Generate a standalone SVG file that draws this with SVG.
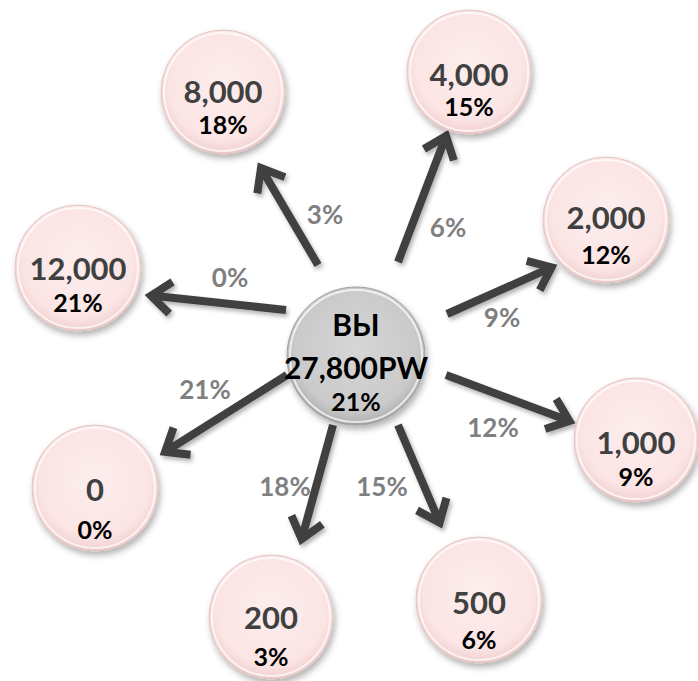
<svg xmlns="http://www.w3.org/2000/svg" width="698" height="681" viewBox="0 0 698 681">
<style>
.num{font-family:Lato,"Open Sans","Liberation Sans",sans-serif;font-weight:bold;font-size:31px;fill:#404040;text-anchor:middle}
.pct{font-family:Lato,"Open Sans","Liberation Sans",sans-serif;font-weight:bold;font-size:25px;fill:#000;text-anchor:middle}
.ctr{font-family:Lato,"Open Sans","Liberation Sans",sans-serif;font-weight:bold;font-size:30px;fill:#000;text-anchor:middle}
.lbl{font-family:Lato,"Open Sans","Liberation Sans",sans-serif;font-weight:bold;font-size:26px;fill:#7f7f7f;text-anchor:middle}
.node{fill:url(#pink);stroke:#e2c4c4;stroke-width:1;filter:url(#sh)}
.hub{fill:url(#grey);stroke:#a0a0a0;stroke-width:1;filter:url(#sh)}
.rim{fill:none;stroke:#ffffff;stroke-opacity:0.7;stroke-width:2}
.arr{fill:none;stroke:#404040;stroke-width:8;marker-end:url(#ah)}
</style>
<defs>
<radialGradient id="pink" cx="50%" cy="45%" r="55%">
<stop offset="0" stop-color="#fdeeee"/>
<stop offset="0.8" stop-color="#fbe4e4"/>
<stop offset="0.93" stop-color="#f5d6d6"/>
<stop offset="1" stop-color="#e8c2c2"/>
</radialGradient>
<radialGradient id="grey" cx="50%" cy="45%" r="55%">
<stop offset="0" stop-color="#d6d6d6"/>
<stop offset="0.8" stop-color="#cacaca"/>
<stop offset="0.93" stop-color="#b8b8b8"/>
<stop offset="1" stop-color="#9c9c9c"/>
</radialGradient>
<filter id="sh" x="-20%" y="-20%" width="140%" height="140%">
<feDropShadow dx="2" dy="4" stdDeviation="3" flood-color="#000" flood-opacity="0.3"/>
</filter>
<filter id="ash" x="-20%" y="-20%" width="140%" height="140%">
<feDropShadow dx="2" dy="3" stdDeviation="2" flood-color="#000" flood-opacity="0.3"/>
</filter>
<marker id="ah" markerUnits="userSpaceOnUse" markerWidth="60" markerHeight="60" viewBox="-30 -30 60 60" refX="0" refY="0" orient="auto" overflow="visible">
<path d="M-20,-16 L0,0 L-20,16" fill="none" stroke="#404040" stroke-width="8" stroke-linejoin="miter" stroke-miterlimit="10"/>
</marker>
</defs>
<rect width="698" height="681" fill="#ffffff"/>
<g id="connectors" filter="url(#ash)">
<path class="arr" d="M318,265 L261,168"/>
<path class="arr" d="M398,262 L446,136"/>
<path class="arr" d="M447,314 L551.5,267.4"/>
<path class="arr" d="M286,310 L151,295.6"/>
<path class="arr" d="M446,375 L569.4,420.9"/>
<path class="arr" d="M287,375 L165.1,451.8"/>
<path class="arr" d="M333,425 L301.6,539.2"/>
<path class="arr" d="M398,425 L439.6,522.5"/>
</g>
<g id="labels">
<text class="lbl" x="325" y="224">3%</text>
<text class="lbl" x="448" y="237">6%</text>
<text class="lbl" x="230" y="287">0%</text>
<text class="lbl" x="502" y="327">9%</text>
<text class="lbl" x="205" y="399">21%</text>
<text class="lbl" x="493" y="437">12%</text>
<text class="lbl" x="285" y="496">18%</text>
<text class="lbl" x="382" y="496">15%</text>
</g>
<g id="hub">
<circle class="hub" cx="356" cy="356" r="69"/>
<circle class="rim" cx="356" cy="356" r="66"/>
<text class="ctr" x="356" y="336">ВЫ</text>
<text class="ctr" x="356" y="379">27,800PW</text>
<text class="pct" x="356" y="411">21%</text>
</g>
<g id="n8000">
<circle class="node" cx="223" cy="92" r="62"/>
<circle class="rim" cx="223" cy="92" r="59"/>
<text class="num" x="223" y="103">8,000</text>
<text class="pct" x="223" y="134">18%</text>
</g>
<g id="n4000">
<circle class="node" cx="469" cy="72" r="62"/>
<circle class="rim" cx="469" cy="72" r="59"/>
<text class="num" x="469" y="86">4,000</text>
<text class="pct" x="469" y="116">15%</text>
</g>
<g id="n2000">
<circle class="node" cx="606" cy="220" r="63"/>
<circle class="rim" cx="606" cy="220" r="60"/>
<text class="num" x="606" y="229">2,000</text>
<text class="pct" x="606" y="264">12%</text>
</g>
<g id="n12000">
<circle class="node" cx="78" cy="268" r="63"/>
<circle class="rim" cx="78" cy="268" r="60"/>
<text class="num" x="78" y="280">12,000</text>
<text class="pct" x="78" y="312">21%</text>
</g>
<g id="n1000">
<circle class="node" cx="636" cy="440" r="62"/>
<circle class="rim" cx="636" cy="440" r="59"/>
<text class="num" x="636" y="454">1,000</text>
<text class="pct" x="636" y="486">9%</text>
</g>
<g id="n0">
<circle class="node" cx="95" cy="488" r="63"/>
<circle class="rim" cx="95" cy="488" r="60"/>
<text class="num" x="95" y="501">0</text>
<text class="pct" x="95" y="539">0%</text>
</g>
<g id="n200">
<circle class="node" cx="271" cy="617" r="62"/>
<circle class="rim" cx="271" cy="617" r="59"/>
<text class="num" x="271" y="629">200</text>
<text class="pct" x="271" y="666">3%</text>
</g>
<g id="n500">
<circle class="node" cx="479" cy="600" r="63"/>
<circle class="rim" cx="479" cy="600" r="60"/>
<text class="num" x="479" y="614">500</text>
<text class="pct" x="479" y="649">6%</text>
</g>
</svg>
